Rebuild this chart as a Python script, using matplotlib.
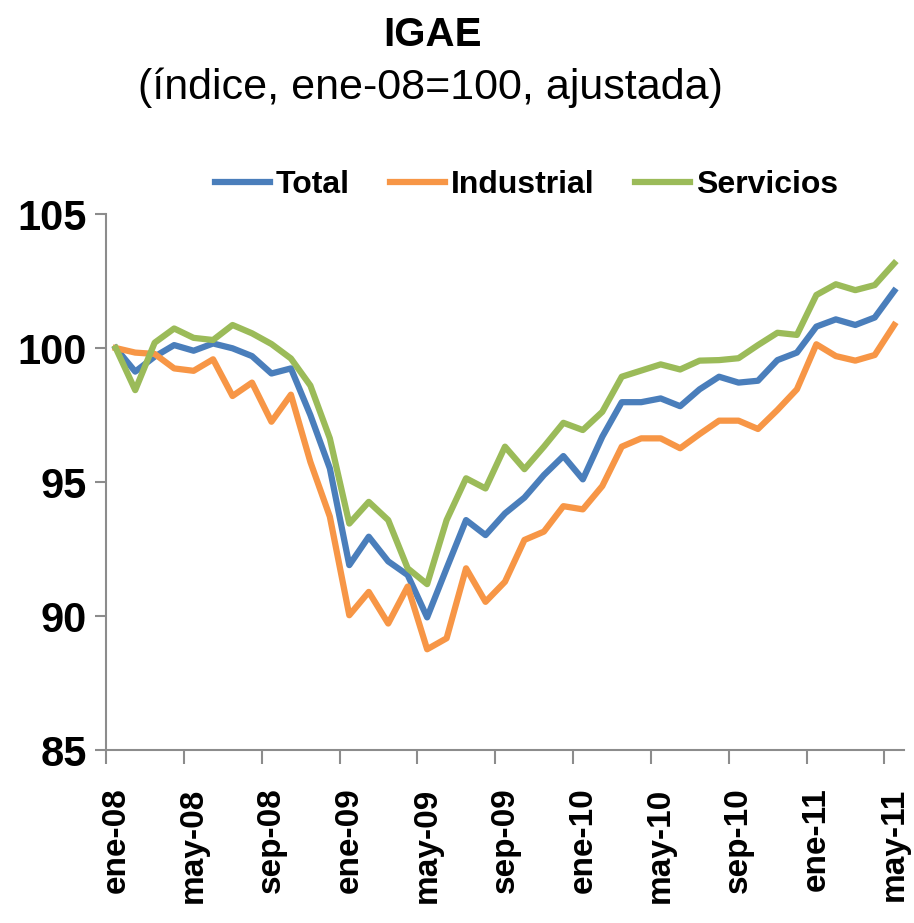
import numpy as np
import matplotlib.pyplot as plt

plt.rcParams['font.family'] = ['Liberation Sans', 'DejaVu Sans']

MONTHS = ["ene", "feb", "mar", "abr", "may", "jun",
          "jul", "ago", "sep", "oct", "nov", "dic"]
# ene-08 ... may-11 (41 meses)
FECHAS = [f"{MONTHS[k % 12]}-{8 + k // 12:02d}" for k in range(41)]

TOTAL = [100.0, 99.12, 99.68, 100.11, 99.90, 100.17, 99.99, 99.70, 99.05, 99.24,
         97.50, 95.51, 91.90, 92.96, 92.04, 91.53, 89.95, 91.78, 93.58, 93.02,
         93.83, 94.42, 95.26, 95.97, 95.10, 96.69, 97.98, 97.98, 98.12, 97.83,
         98.46, 98.93, 98.71, 98.78, 99.55, 99.83, 100.80, 101.07, 100.86, 101.14,
         102.13]
INDUSTRIAL = [100.0, 99.83, 99.78, 99.24, 99.15, 99.58, 98.21, 98.71, 97.25, 98.26,
              95.75, 93.71, 90.03, 90.90, 89.72, 91.10, 88.76, 89.17, 91.78, 90.53,
              91.28, 92.84, 93.15, 94.10, 93.98, 94.85, 96.32, 96.63, 96.63, 96.26,
              96.79, 97.29, 97.29, 96.98, 97.69, 98.46, 100.14, 99.70, 99.53, 99.74,
              100.86]
SERVICIOS = [100.0, 98.43, 100.20, 100.73, 100.38, 100.30, 100.86, 100.55, 100.15, 99.61,
             98.60, 96.63, 93.45, 94.26, 93.58, 91.78, 91.19, 93.58, 95.14, 94.76,
             96.32, 95.48, 96.32, 97.21, 96.94, 97.62, 98.93, 99.16, 99.39, 99.20,
             99.53, 99.55, 99.62, 100.11, 100.57, 100.49, 101.98, 102.38, 102.16, 102.35,
             103.16]

AZUL = "#4A7EBB"
NARANJA = "#F79646"
VERDE = "#9BBB59"

fig = plt.figure(figsize=(9.14, 9.23), dpi=100)
ax = fig.add_axes([0.116, 0.1874, 0.873, 0.5807])

x = np.arange(len(FECHAS))
ax.plot(x, TOTAL, color=AZUL, lw=4.5, label="Total", solid_joinstyle="round")
ax.plot(x, INDUSTRIAL, color=NARANJA, lw=4.5, label="Industrial", solid_joinstyle="round")
ax.plot(x, SERVICIOS, color=VERDE, lw=4.5, label="Servicios", solid_joinstyle="round")

ax.set_xlim(-0.5, len(FECHAS) - 0.5)
ax.set_ylim(85, 105)
ax.set_yticks([85, 90, 95, 100, 105])
ax.set_yticklabels(["85", "90", "95", "100", "105"], fontsize=30, fontweight="bold")

pos = x[::4]
ax.set_xticks(pos)
ax.set_xticklabels([FECHAS[i] for i in pos], rotation=90, fontsize=24,
                   fontweight="bold", va="top")
ax.set_xticks(np.arange(-0.5, len(FECHAS), 4), minor=True)
ax.tick_params(axis="x", which="major", length=0, pad=27)
ax.tick_params(axis="x", which="minor", length=10, width=1.5, color="#8C8C8C", direction="out")
ax.tick_params(axis="y", length=8, width=1.5, color="#8C8C8C", direction="out", pad=6)

for s in ["top", "right"]:
    ax.spines[s].set_visible(False)
for s in ["left", "bottom"]:
    ax.spines[s].set_color("#8C8C8C")
    ax.spines[s].set_linewidth(1.5)

fig.text(0.473, 0.962, "IGAE", ha="center", va="center", fontsize=29, fontweight="bold")
fig.text(0.4705, 0.905, "(índice, ene-08=100, ajustada)", ha="center", va="center", fontsize=31)

fig.legend(loc="center", bbox_to_anchor=(0.576, 0.7996), ncol=3, frameon=False,
           prop={"size": 23, "weight": "bold"}, handlelength=1.72, handletextpad=0.2,
           columnspacing=1.25)

fig.savefig("out.png", dpi=100)
